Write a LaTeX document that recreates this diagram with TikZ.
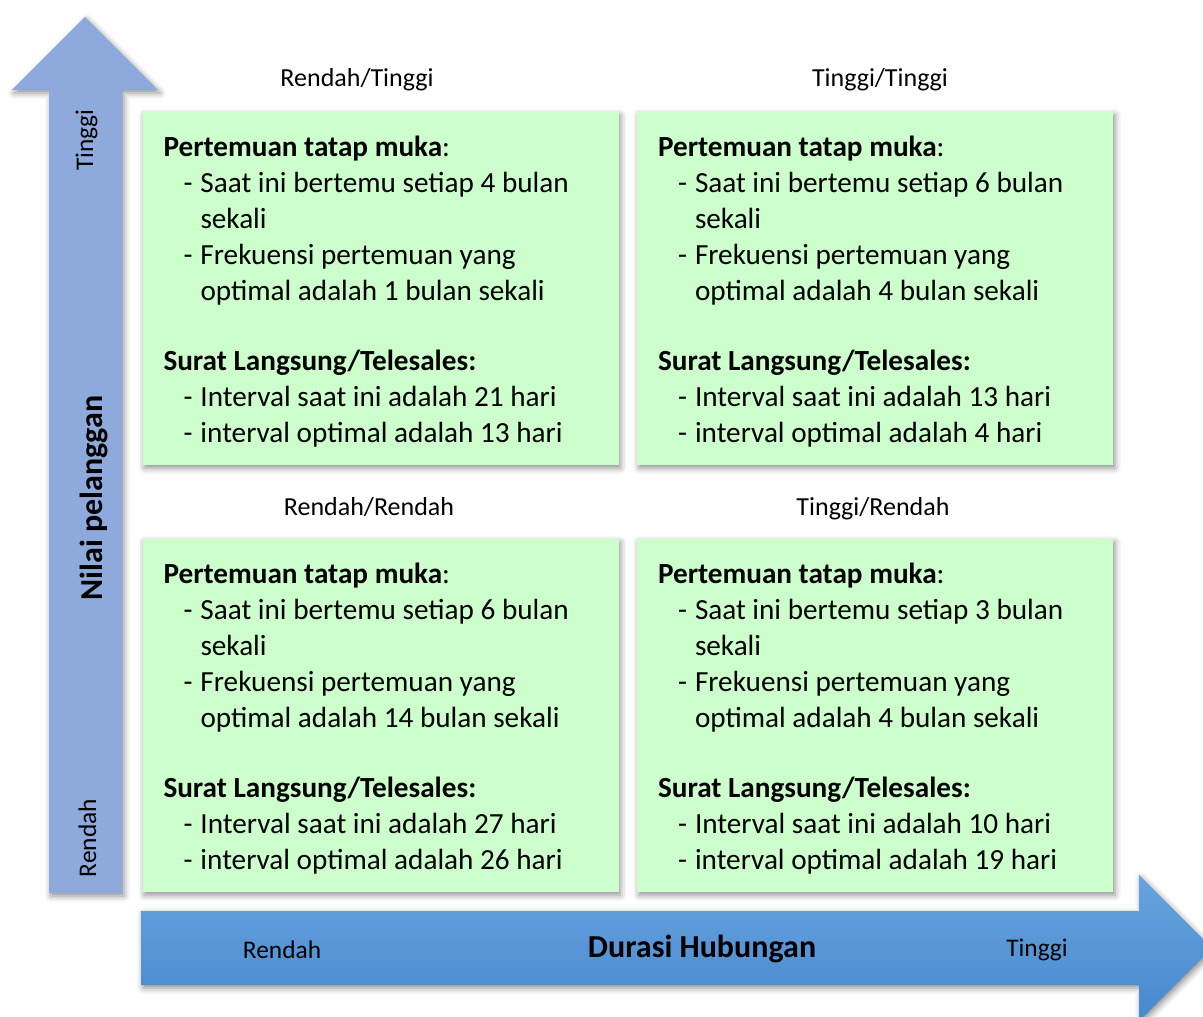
\documentclass[tikz,border=0pt]{standalone}
\usepackage{fontspec}
\setmainfont{Carlito}
\usetikzlibrary{positioning,shadows.blur}

\definecolor{hijau}{RGB}{204,255,204}
\definecolor{biruMuda}{RGB}{142,169,219}
\definecolor{biruAtas}{RGB}{104,163,222}
\definecolor{biruBawah}{RGB}{70,136,206}

% one bullet line with a hanging indent
\newcommand{\butir}[1]{\par\hangindent=18.5pt\hangafter=1\noindent\makebox[18.5pt][l]{\hspace{10pt}-}#1}

% contents of one quadrant (font's own word space, not the align=left one)
\newcommand{\kuadran}[4]{%
\spaceskip=0pt\xspaceskip=0pt
\noindent\strut\textbf{Pertemuan tatap muka}:
\butir{Saat ini bertemu setiap #1 bulan\newline sekali}
\butir{Frekuensi pertemuan yang\newline optimal adalah #2 bulan sekali}
\par\vspace{17pt}\noindent\textbf{Surat Langsung/Telesales:}
\butir{Interval saat ini adalah #3 hari}
\butir{interval optimal adalah #4 hari}}

\tikzset{
  bayang/.style={blur shadow={shadow xshift=1pt, shadow yshift=-1.5pt, shadow blur radius=3pt, shadow opacity=45}},
  kotak/.style={fill=hijau, draw=none, minimum width=238pt, minimum height=176.5pt, bayang},
  isi/.style={anchor=north west, inner sep=0pt, text width=232pt, align=left, font=\fontsize{14.6}{18}\selectfont},
  judul/.style={anchor=base, inner sep=0pt, font=\fontsize{13}{15}\selectfont},
  sumbu/.style={anchor=base, inner sep=0pt, font=\fontsize{12.7}{15}\selectfont},
  sumbuTebal/.style={anchor=base, inner sep=0pt, font=\bfseries\fontsize{16}{19}\selectfont}
}

\begin{document}
\begin{tikzpicture}[x=0.5pt, y=-0.5pt]
\useasboundingbox (0,0) rectangle (1203,1016);
\clip (0,0) rectangle (1203,1016);

% vertical axis arrow
\fill[biruMuda, bayang] (49,893) -- (49,90) -- (12,90) -- (85,17) -- (158,90) -- (122,90) -- (122,893) -- cycle;
\node[sumbu, rotate=90] (yTinggi) at (93,140) {Tinggi};
\node[sumbuTebal, rotate=90] (yJudul) at (102,498) {Nilai pelanggan};
\node[sumbu, rotate=90] (yRendah) at (96,838) {Rendah};

% horizontal axis arrow
\shade[top color=biruAtas, bottom color=biruBawah, bayang] (141,911) -- (1139,911) -- (1139,875) -- (1212,948) -- (1139,1021) -- (1139,985) -- (141,985) -- cycle;
\node[sumbu] (xRendah) at (282,958) {Rendah};
\node[sumbuTebal] (xJudul) at (702,957) {Durasi Hubungan};
\node[sumbu] (xTinggi) at (1037,956) {Tinggi};

% the four quadrants
\node[kotak] (tl) at (380.5,288.5) {};
\node[kotak] (tr) at (875,288.5) {};
\node[kotak] (bl) at (380.5,715.5) {};
\node[kotak] (br) at (875,715.5) {};

\node[judul] (lblTL) at (357,87) {Rendah/Tinggi};
\node[judul] (lblTR) at (880,87) {Tinggi/Tinggi};
\node[judul] (lblBL) at (369,515) {Rendah/Rendah};
\node[judul] (lblBR) at (873,515) {Tinggi/Rendah};

\node[isi] (isiTL) at ([xshift=10.5pt, yshift=-9.5pt]tl.north west) {\kuadran{4}{1}{21}{13}};
\node[isi] (isiTR) at ([xshift=10.5pt, yshift=-9.5pt]tr.north west) {\kuadran{6}{4}{13}{4}};
\node[isi] (isiBL) at ([xshift=10.5pt, yshift=-9.5pt]bl.north west) {\kuadran{6}{14}{27}{26}};
\node[isi] (isiBR) at ([xshift=10.5pt, yshift=-9.5pt]br.north west) {\kuadran{3}{4}{10}{19}};
\end{tikzpicture}
\end{document}
